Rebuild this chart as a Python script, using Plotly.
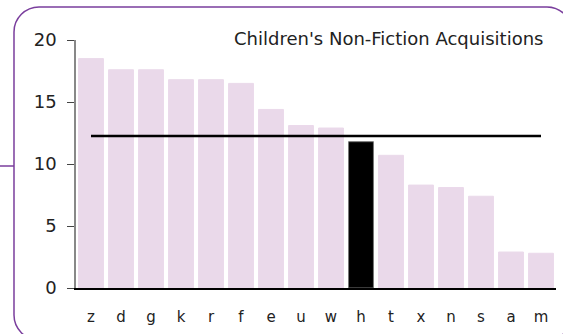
import plotly.graph_objects as go

# Acquisitions per branch, sorted high to low
branches = ["z", "d", "g", "k", "r", "f", "e", "u", "w", "h", "t", "x", "n", "s", "a", "m"]
acquisitions = [18.5, 17.6, 17.6, 16.8, 16.8, 16.5, 14.4, 13.1, 12.9, 11.8, 10.7, 8.3, 8.1, 7.4, 2.9, 2.8]
highlight = "h"
y_ticks = [0, 5, 10, 15, 20]
title_text = "Children's Non-Fiction Acquisitions"

average = sum(acquisitions) / len(acquisitions)

W, H = 563, 334
ML, MR, MT, MB = 76, 7, 40, 46
PW, PH = W - ML - MR, H - MT - MB

def px(x):
    return (x - ML) / PW

def py(y):
    return (H - MB - y) / PH

bar_colors = ["#000000" if b == highlight else "#EAD9EA" for b in branches]
line_colors = ["#777777" if b == highlight else "#EAD9EA" for b in branches]

fig = go.Figure()
fig.add_trace(go.Bar(
    x=branches, y=acquisitions,
    marker=dict(color=bar_colors, line=dict(color=line_colors, width=1)),
    hoverinfo="x+y",
))
fig.add_trace(go.Scatter(
    x=branches, y=[average] * len(branches),
    mode="lines", line=dict(color="#000000", width=2.5),
    hoverinfo="skip",
))

# rounded frame around the chart plus the connector stub on the left
x0, y0, x1, y1, r = 14, 7, 572, 340, 25
k = 0.45 * r
pts = [
    ("M", [(x0 + r, y0)]),
    ("L", [(x1 - r, y0)]),
    ("C", [(x1 - k, y0), (x1, y0 + k), (x1, y0 + r)]),
    ("L", [(x1, y1 - r)]),
    ("C", [(x1, y1 - k), (x1 - k, y1), (x1 - r, y1)]),
    ("L", [(x0 + r, y1)]),
    ("C", [(x0 + k, y1), (x0, y1 - k), (x0, y1 - r)]),
    ("L", [(x0, y0 + r)]),
    ("C", [(x0, y0 + k), (x0 + k, y0), (x0 + r, y0)]),
]
path = ""
for cmd, coords in pts:
    path += cmd + " ".join(f"{px(a):.5f},{py(b):.5f}" for a, b in coords) + " "
path += "Z"

shapes = [
    dict(type="path", xref="paper", yref="paper", path=path,
         line=dict(color="#7A3E9D", width=1.5), fillcolor="rgba(0,0,0,0)", layer="above"),
    dict(type="line", xref="paper", yref="paper",
         x0=px(0), x1=px(x0), y0=py(166), y1=py(166),
         line=dict(color="#7A3E9D", width=1.5)),
]

fig.update_layout(
    width=W, height=H,
    margin=dict(l=ML, r=MR, t=MT, b=MB, pad=0),
    paper_bgcolor="#FFFFFF", plot_bgcolor="#FFFFFF",
    showlegend=False,
    bargap=0.17,
    font=dict(family="DejaVu Sans", color="#222222"),
    shapes=shapes,
    annotations=[dict(
        text=title_text, xref="paper", yref="paper",
        x=px(545), y=py(39), xanchor="right", yanchor="middle",
        showarrow=False, font=dict(family="DejaVu Sans", size=18, color="#222222"),
    )],
    xaxis=dict(
        type="category", showgrid=False, zeroline=False,
        showline=True, linecolor="#000000", linewidth=1.5,
        ticks="outside", ticklen=14, tickcolor="rgba(0,0,0,0)",
        tickfont=dict(size=15, color="#222222"),
        range=[-0.5, len(branches) - 0.5],
    ),
    yaxis=dict(
        range=[0, 20], tickvals=y_ticks, showgrid=False, zeroline=False,
        showline=True, linecolor="#888888", linewidth=1.5,
        ticks="outside", ticklen=7, tickcolor="#444444",
        tickfont=dict(size=18, color="#222222"),
        ticklabelstandoff=7,
    ),
)

fig.write_html("out.html")
